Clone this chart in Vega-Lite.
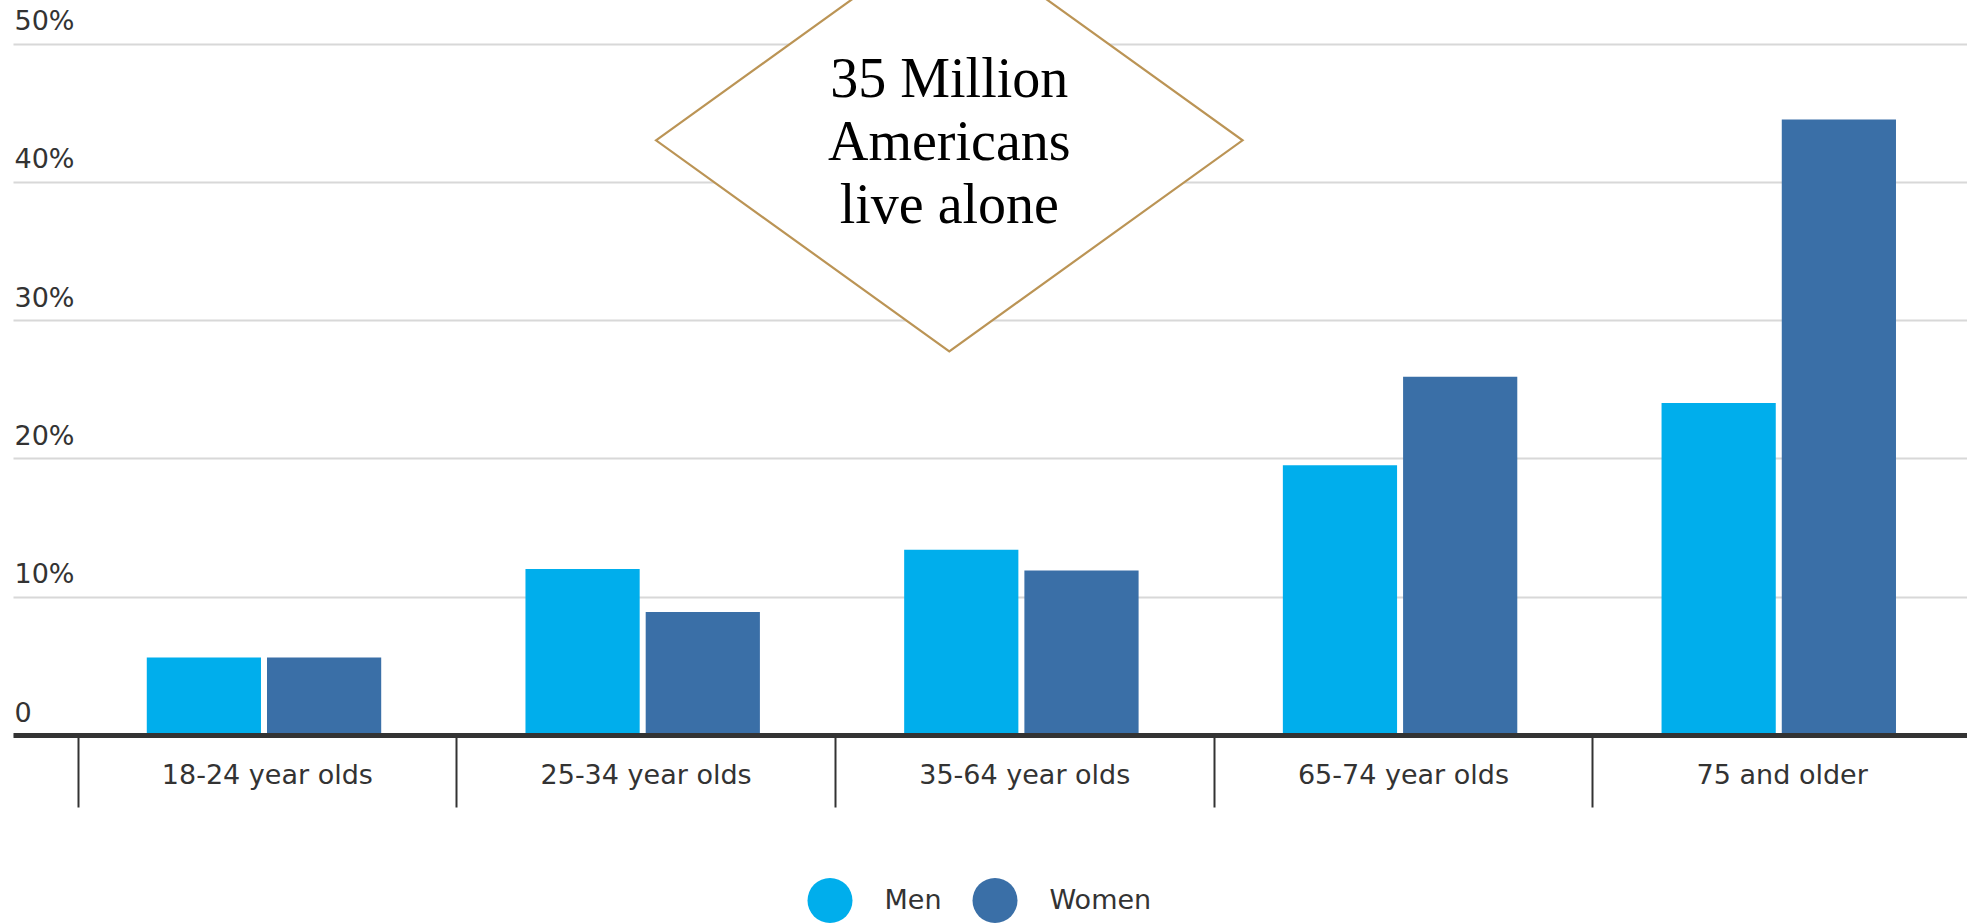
{
  "$schema": "https://vega.github.io/schema/vega-lite/v6.json",
  "width": 1954,
  "height": 735,
  "autosize": {"type": "none"},
  "padding": {"left": 13, "top": 0, "right": 0, "bottom": 189},
  "background": "white",
  "config": {"view": {"stroke": null}, "font": "DejaVu Sans"},
  "datasets": {
    "bars": [
      {"group": "18-24 year olds", "gender": "Men", "value": 5.6},
      {"group": "18-24 year olds", "gender": "Women", "value": 5.6},
      {"group": "25-34 year olds", "gender": "Men", "value": 12.0},
      {"group": "25-34 year olds", "gender": "Women", "value": 8.9},
      {"group": "35-64 year olds", "gender": "Men", "value": 13.4},
      {"group": "35-64 year olds", "gender": "Women", "value": 11.9},
      {"group": "65-74 year olds", "gender": "Men", "value": 19.5},
      {"group": "65-74 year olds", "gender": "Women", "value": 25.9},
      {"group": "75 and older", "gender": "Men", "value": 24.0},
      {"group": "75 and older", "gender": "Women", "value": 44.5}
    ],
    "note": [
      {"group": "35-64 year olds", "value": 43.0, "textValue": 46.1, "label": ["35 Million", "Americans", "live alone"]}
    ]
  },
  "layer": [
    {
      "data": {"name": "bars"},
      "mark": {"type": "bar"},
      "encoding": {
        "x": {
          "field": "group", "type": "nominal",
          "sort": ["18-24 year olds", "25-34 year olds", "35-64 year olds", "65-74 year olds", "75 and older"],
          "scale": {"range": [0, 1958], "paddingInner": 0, "paddingOuter": 0.0852, "align": 1},
          "axis": {
            "title": null, "domain": true, "domainColor": "#333333", "domainWidth": 5,
            "ticks": true, "tickBand": "extent", "tickSize": 72, "tickWidth": 2, "tickColor": "#333333",
            "labelFont": "DejaVu Sans", "labelFontSize": 27, "labelColor": "#333333",
            "labelBaseline": "alphabetic", "labelPadding": -24, "labelAngle": 0, "labelLimit": 0,
            "grid": false, "zindex": 1
          }
        },
        "xOffset": {
          "field": "gender", "type": "nominal", "sort": ["Men", "Women"],
          "scale": {"paddingInner": 0.05, "paddingOuter": 0.6, "align": 0.48}
        },
        "y": {
          "field": "value", "type": "quantitative",
          "scale": {"domain": [0, 53.15], "nice": false, "zero": true},
          "axis": {
            "values": [0, 10, 20, 30, 40, 50], "domain": false, "ticks": false,
            "grid": true, "gridColor": "#D8D8D8", "gridWidth": 2,
            "labelAlign": "left", "labelBaseline": "alphabetic", "labelPadding": -1, "labelOffset": -14,
            "labelFont": "DejaVu Sans", "labelFontSize": 27, "labelColor": "#333333",
            "labelExpr": "datum.value == 0 ? '0' : datum.value + '%'",
            "title": null, "labelFlush": false, "labelBound": false, "labelOverlap": false, "zindex": 0
          }
        },
        "color": {
          "field": "gender", "type": "nominal",
          "scale": {"domain": ["Men", "Women"], "range": ["#00AEEC", "#3A6FA7"]},
          "legend": {
            "title": null, "orient": "none", "legendX": 794.5, "legendY": 878,
            "direction": "horizontal", "symbolType": "circle", "symbolSize": 2025,
            "symbolStrokeWidth": 0, "symbolOpacity": 1, "padding": 0,
            "labelFont": "DejaVu Sans", "labelFontSize": 27, "labelColor": "#333333",
            "labelOffset": 32, "columnPadding": 30
          }
        }
      }
    },
    {
      "data": {"name": "note"},
      "mark": {
        "type": "point", "shape": "M-1.39,0L0,-1L1.39,0L0,1Z", "size": 178084,
        "filled": true, "fill": "white", "stroke": "#BB9455", "strokeWidth": 2.2,
        "opacity": 1, "fillOpacity": 1, "strokeOpacity": 1, "clip": true
      },
      "encoding": {
        "x": {"field": "group", "type": "nominal", "bandPosition": 0.302,
              "sort": ["18-24 year olds", "25-34 year olds", "35-64 year olds", "65-74 year olds", "75 and older"]},
        "y": {"field": "value", "type": "quantitative"}
      }
    },
    {
      "data": {"name": "note"},
      "mark": {
        "type": "text", "font": "Liberation Serif", "fontSize": 56, "lineHeight": 63,
        "align": "center", "baseline": "alphabetic", "color": "#000000"
      },
      "encoding": {
        "x": {"field": "group", "type": "nominal", "bandPosition": 0.302,
              "sort": ["18-24 year olds", "25-34 year olds", "35-64 year olds", "65-74 year olds", "75 and older"]},
        "y": {"field": "textValue", "type": "quantitative"},
        "text": {"field": "label"}
      }
    }
  ]
}
